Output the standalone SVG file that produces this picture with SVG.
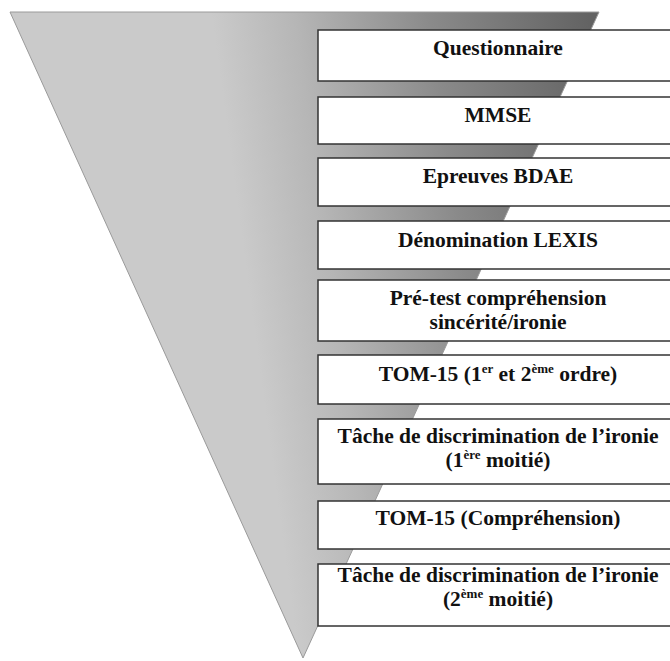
<svg xmlns="http://www.w3.org/2000/svg" width="670" height="661" viewBox="0 0 670 661">
  <defs>
    <linearGradient id="funnelGrad" gradientUnits="userSpaceOnUse" x1="230" y1="150" x2="600" y2="100">
      <stop offset="0" stop-color="#cacaca"/>
      <stop offset="0.22" stop-color="#b6b6b6"/>
      <stop offset="0.58" stop-color="#8a8a8a"/>
      <stop offset="1" stop-color="#636363"/>
    </linearGradient>
    <style>
      .box { fill: #ffffff; stroke: #333333; stroke-width: 1.5; }
      .lbl { fill: #111111; text-anchor: middle; }
    </style>
  </defs>
  <rect x="0" y="0" width="670" height="661" fill="#ffffff"/>
  <g id="funnel">
    <polygon points="10,12 599,12 303,658" fill="url(#funnelGrad)" stroke="#9a9a9a" stroke-width="1"/>
  </g>
  <g id="connectors"/>
  <g id="node-questionnaire">
    <rect class="box" x="318" y="30" width="380" height="51"/>
    <text class="lbl" x="498" y="55" font-family="Liberation Serif" font-weight="bold" font-size="21.5">Questionnaire</text>
  </g>
  <g id="node-mmse">
    <rect class="box" x="318" y="97" width="380" height="47"/>
    <text class="lbl" x="498" y="122" font-family="Liberation Serif" font-weight="bold" font-size="21.5">MMSE</text>
  </g>
  <g id="node-bdae">
    <rect class="box" x="318" y="158" width="380" height="48"/>
    <text class="lbl" x="498" y="183" font-family="Liberation Serif" font-weight="bold" font-size="21.5">Epreuves BDAE</text>
  </g>
  <g id="node-lexis">
    <rect class="box" x="318" y="221" width="380" height="48"/>
    <text class="lbl" x="498" y="247" font-family="Liberation Serif" font-weight="bold" font-size="21.5">Dénomination LEXIS</text>
  </g>
  <g id="node-pretest">
    <rect class="box" x="318" y="280" width="380" height="61"/>
    <text class="lbl" x="498" y="305" font-family="Liberation Serif" font-weight="bold" font-size="21.5">Pré-test compréhension</text>
    <text class="lbl" x="498" y="329" font-family="Liberation Serif" font-weight="bold" font-size="21.5">sincérité/ironie</text>
  </g>
  <g id="node-tom15-ordre">
    <rect class="box" x="318" y="355" width="380" height="49"/>
    <text class="lbl" x="498" y="381" font-family="Liberation Serif" font-weight="bold" font-size="21.5">TOM-15 (1<tspan font-size="13" dy="-8">er</tspan><tspan dy="8"> et 2</tspan><tspan font-size="13" dy="-8">ème</tspan><tspan dy="8"> ordre)</tspan></text>
  </g>
  <g id="node-discrimination-1">
    <rect class="box" x="318" y="419" width="380" height="65"/>
    <text class="lbl" x="498" y="443" font-family="Liberation Serif" font-weight="bold" font-size="21.5">Tâche de discrimination de l’ironie</text>
    <text class="lbl" x="498" y="467" font-family="Liberation Serif" font-weight="bold" font-size="21.5">(1<tspan font-size="13" dy="-8">ère</tspan><tspan dy="8"> moitié)</tspan></text>
  </g>
  <g id="node-tom15-comprehension">
    <rect class="box" x="318" y="501" width="380" height="48"/>
    <text class="lbl" x="498" y="525" font-family="Liberation Serif" font-weight="bold" font-size="21.5">TOM-15 (Compréhension)</text>
  </g>
  <g id="node-discrimination-2">
    <rect class="box" x="318" y="564" width="380" height="62"/>
    <text class="lbl" x="498" y="582" font-family="Liberation Serif" font-weight="bold" font-size="21.5">Tâche de discrimination de l’ironie</text>
    <text class="lbl" x="498" y="606" font-family="Liberation Serif" font-weight="bold" font-size="21.5">(2<tspan font-size="13" dy="-8">ème</tspan><tspan dy="8"> moitié)</tspan></text>
  </g>
</svg>
